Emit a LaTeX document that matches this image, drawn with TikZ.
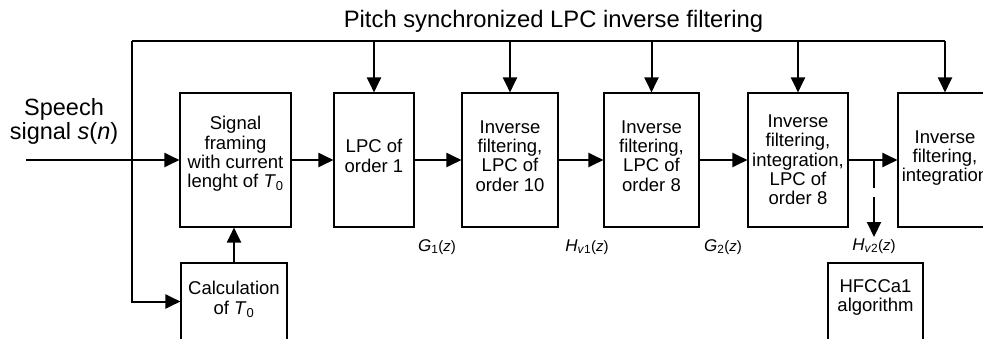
\documentclass[tikz,border=0pt]{standalone}
\usepackage{fontspec}
\setmainfont{Liberation Sans}
\usepackage{tikz}
\usetikzlibrary{arrows.meta}
\newcommand{\tfn}[2]{\textit{#1}\textsubscript{#2}{\fontsize{15}{15}\selectfont(\textit{z})}}
\newcommand{\tnull}{\textit{T}\textsubscript{0}}

\begin{document}
\begin{tikzpicture}[x=1pt,y=-1pt,
          blk/.style={draw,line width=1.1pt,inner sep=0pt,minimum height=134pt},
          low/.style={draw,line width=1.1pt,inner sep=0pt,minimum height=77pt},
          txt/.style={inner sep=0pt,align=center,font=\fontsize{18.5}{19.3}\selectfont},
          sig/.style={line width=2pt,-{Triangle[length=15pt,width=14pt]}},
          wire/.style={line width=2pt},
          lbl/.style={font=\fontsize{17}{19}\selectfont}]
          \clip (0,0) rectangle (983,338);

          \node[anchor=base,font=\fontsize{23.8}{24}\selectfont] (ttl) at (553.5,27.3) {Pitch synchronized LPC inverse filtering};
          \node[align=center,font=\fontsize{23.5}{24}\selectfont] (sp) at (64,121) {Speech\\signal \textit{s}(\textit{n})};

          \node[blk,minimum width=111pt] (frm) at (235.5,160) {};
          \node[blk,minimum width=80pt] (lpc) at (374,160) {};
          \node[blk,minimum width=96pt] (inva) at (510,160) {};
          \node[blk,minimum width=95pt] (invb) at (651.5,160) {};
          \node[blk,minimum width=100pt] (intg) at (798,160) {};
          \node[blk,minimum width=94pt] (intf) at (945,160) {};
          \node[low,minimum width=106pt] (calc) at (234,301.5) {};
          \node[low,minimum width=95pt] (hfc) at (875.5,301.5) {};

          \node[txt] (frmt) at ([yshift=6pt]frm) {Signal\\framing\\with current\\lenght of \tnull};
          \node[txt] (lpct) at ([yshift=4pt]lpc) {LPC of\\order 1};
          \node[txt] (invat) at ([yshift=4pt]inva) {Inverse\\filtering,\\LPC of\\order 10};
          \node[txt] (invbt) at ([yshift=4pt]invb) {Inverse\\filtering,\\LPC of\\order 8};
          \node[txt] (intgt) at (intg) {Inverse\\filtering,\\integration,\\LPC of\\order 8};
          \node[txt] (intft) at ([yshift=2pt]intf) {Inverse\\filtering,\\integration};
          \node[txt] (calct) at ([yshift=2pt]calc) {Calculation\\of \tnull};
          \node[txt] (hfct) at ([yshift=4pt]hfc) {HFCCa1\\algorithm};

          \node[lbl] (ga) at (437,247) {\tfn{G}{1}};
          \node[lbl] (ha) at (587,247) {\tfn{H}{\textit{v}1}};
          \node[lbl] (gb) at (723,247) {\tfn{G}{2}};
          \node[lbl] (hb) at (874,246) {\tfn{H}{\textit{v}2}};

          \coordinate (in) at (26,160);
          \coordinate (tl) at (132,41);
          \coordinate (br) at (874,160);
          \coordinate (hv) at (874,237);

          \draw[sig] (in) -- (frm);
          \draw[sig] (frm) -- (lpc);
          \draw[sig] (lpc) -- (inva);
          \draw[sig] (inva) -- (invb);
          \draw[sig] (invb) -- (intg);
          \draw[sig] (intg) -- (intf);
          \draw[sig] (calc.north) -- (calc.north |- frm.south);
          \draw[sig,dash pattern=on 28pt off 9pt] (br) -- (hv);

          \draw[wire] (intf.north |- tl) -- (tl);
          \draw[sig] (tl) -- (tl |- calc.west) -- (calc.west);
          \foreach \b in {lpc,inva,invb,intg,intf}
            \draw[sig] (\b.north |- tl) -- (\b.north);
\end{tikzpicture}
\end{document}
